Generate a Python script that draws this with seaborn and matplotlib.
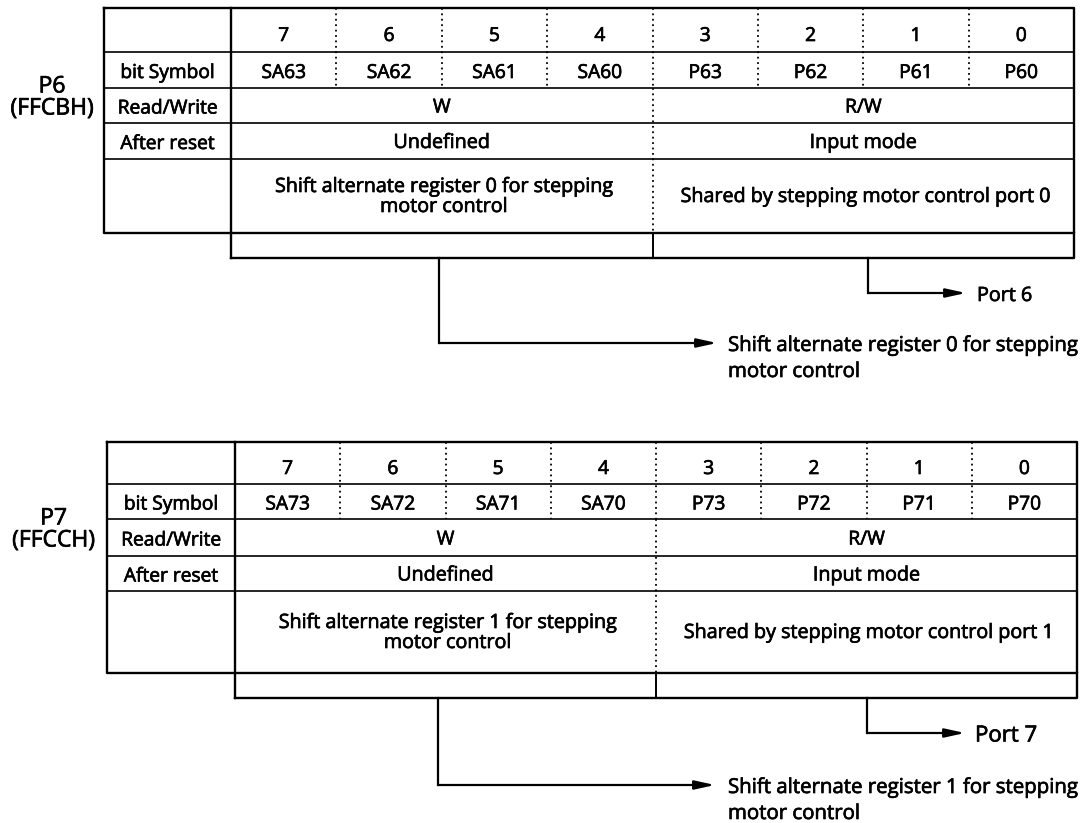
import numpy as np
import pandas as pd
import matplotlib.pyplot as plt
import matplotlib.patheffects as pe
import seaborn as sns

sns.set_theme(style='white')
plt.rcParams['font.family'] = ['Open Sans', 'DejaVu Sans']

# register data
bits = ['7', '6', '5', '4', '3', '2', '1', '0']
row_labels = ['bit Symbol', 'Read/Write', 'After reset']
registers = ['P6', 'P7']
addresses = ['(FFCBH)', '(FFCCH)']
p6_symbols = ['SA63', 'SA62', 'SA61', 'SA60', 'P63', 'P62', 'P61', 'P60']
p7_symbols = ['SA73', 'SA72', 'SA71', 'SA70', 'P73', 'P72', 'P71', 'P70']
rw_values = ['W', 'R/W']
reset_values = ['Undefined', 'Input mode']
p6_desc = ['Shift alternate register 0 for stepping\nmotor control',
           'Shared by stepping motor control port 0']
p7_desc = ['Shift alternate register 1 for stepping\nmotor control',
           'Shared by stepping motor control port 1']
p6_outputs = ['Shift alternate register 0 for stepping\nmotor control', 'Port 6']
p7_outputs = ['Shift alternate register 1 for stepping\nmotor control', 'Port 7']

K = 'black'
FS = 14.2
FX = [pe.withStroke(linewidth=0.5, foreground=K)]


def line(ax, xs, ys, lw=1.3, ls='-'):
    ax.plot(xs, ys, color=K, lw=lw, ls=ls, solid_capstyle='projecting')


def txt(ax, x, y, s, fs, ha='center'):
    ax.text(x, y, s, ha=ha, va='center', fontsize=fs, color=K, path_effects=FX)


def draw_register(ax, x0, xl, x1, ys, name, addr, symbols, desc, outputs, drops):
    dot = (0, (1, 2))
    w = (x1 - xl) / 8
    xm = xl + 4 * w
    # outer box + label column
    line(ax, [x0, x1, x1, x0, x0], [ys[0], ys[0], ys[5], ys[5], ys[0]], lw=1.7)
    line(ax, [xl, xl], [ys[0], ys[6]], lw=1.7)
    for y in ys[1:5]:
        line(ax, [x0, x1], [y, y], lw=1.2)
    # extra row under the bits
    line(ax, [xl, x1, x1], [ys[6], ys[6], ys[5]], lw=1.7)
    line(ax, [xm, xm], [ys[5], ys[6]], lw=1.4)
    # dotted bit dividers
    for k in range(1, 8):
        xk = xl + k * w
        line(ax, [xk, xk], [ys[0], ys[2]], lw=1.3, ls=dot)
    line(ax, [xm, xm], [ys[2], ys[5]], lw=1.3, ls=dot)

    # register name
    cy = (ys[2] + ys[3]) / 2
    txt(ax, x0 / 2, cy - 19, name, 16.5)
    txt(ax, x0 / 2, cy + 3, addr, 16.5)

    # row labels
    for i, lab in enumerate(row_labels):
        txt(ax, (x0 + xl) / 2, (ys[i + 1] + ys[i + 2]) / 2 + 3, lab, 13.8)
    for k in range(8):
        cx = xl + (k + 0.5) * w
        txt(ax, cx, (ys[0] + ys[1]) / 2 + 6, bits[k], 13.8)
        txt(ax, cx, (ys[1] + ys[2]) / 2 + 3, symbols[k], 13.8)
    halves = [(xl + xm) / 2, (xm + x1) / 2]
    for j in range(2):
        txt(ax, halves[j], (ys[2] + ys[3]) / 2 + 2, rw_values[j], 13.8)
        txt(ax, halves[j], (ys[3] + ys[4]) / 2 + 2, reset_values[j], FS)
        parts = desc[j].split('\n')
        y0 = (ys[4] + ys[5]) / 2 + 1 - 10 * (len(parts) - 1)
        for i, p in enumerate(parts):
            txt(ax, halves[j] + 2, y0 + 20 * i, p, FS)

    # output arrows
    for j, (xd, yd, tip, tx, fs) in enumerate(drops):
        line(ax, [xd, xd], [ys[6], yd], lw=1.6)
        ax.annotate('', xy=(tip, yd), xytext=(xd, yd),
                    arrowprops=dict(arrowstyle='-|>,head_length=1.0,head_width=0.22',
                                    color=K, lw=1.6, shrinkA=0, shrinkB=0))
        for i, p in enumerate(outputs[j].split('\n')):
            txt(ax, tx, yd + 3 + 26 * i, p, fs, ha='left')


fig = plt.figure(figsize=(10.81, 8.23), dpi=100)
ax = fig.add_axes([0, 0, 1, 1])
ax.set_xlim(0, 1081)
ax.set_ylim(823, 0)
ax.axis('off')

draw_register(ax, 104, 231, 1074, [8, 52, 88, 123, 159, 233, 258],
              registers[0], addresses[0], p6_symbols, p6_desc, p6_outputs,
              [(439, 343, 717, 728, 14.7), (868, 293, 966, 977, 14.2)])
draw_register(ax, 107, 235, 1077, [442, 484, 519, 556, 591, 673, 698],
              registers[1], addresses[1], p7_symbols, p7_desc, p7_outputs,
              [(438, 785, 715, 728, 14.7), (867, 733, 965, 975, 16)])

fig.savefig('out.png', dpi=100, facecolor='white')
